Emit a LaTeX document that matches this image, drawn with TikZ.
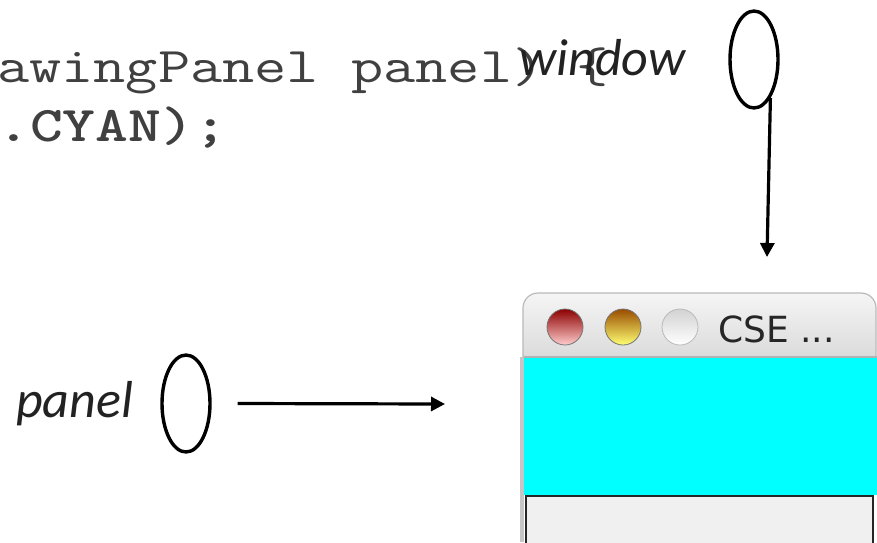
\documentclass[tikz,border=0pt]{standalone}
\usepackage{fontspec}
\usetikzlibrary{shapes.geometric,arrows.meta}
\newfontfamily\codefont[FakeStretch=1.25]{Latin Modern Mono}
\newfontfamily\codeboldfont[FakeStretch=1.25]{lmmonolt10-bold.otf}
\newfontfamily\labelfont{Carlito}
\newfontfamily\titlefont{DejaVu Sans}
\definecolor{codegray}{HTML}{404040}
\definecolor{labelgray}{HTML}{222222}
\definecolor{wincyan}{RGB}{0,255,255}
\tikzset{
    code/.style={font=\codefont\fontsize{50}{60}\selectfont, text=codegray, inner sep=0pt, anchor=base west},
    varlabel/.style={font=\labelfont\itshape\fontsize{52}{60}\selectfont, text=labelgray, inner sep=0pt, anchor=base west},
    varbox/.style={draw, ellipse, line width=3.4pt, minimum width=48pt, minimum height=97pt, inner sep=0pt},
    ptr/.style={line width=3.2pt, -{Triangle[length=14pt,width=14pt]}},
}
\begin{document}
\begin{tikzpicture}[x=1pt, y=-1pt]
    \useasboundingbox (0,0) rectangle (877,542);

    % codice
    \node[code] (codeA) at (-3,82) {awingPanel panel) \{};
    \node[code, font=\codeboldfont\fontsize{50}{60}\selectfont] (codeB) at (-3,141) {.CYAN);};

    % variabili
    \node[varlabel] (winname) at (519,75) {window};
    \node[varbox] (winvar) at (754,59.5) {};
    \node[varlabel] (panelname) at (16,417) {panel};
    \node[varbox] (panelvar) at (186,403.5) {};

    % finestra
    \begin{scope}
        \shade[top color=gray!8, bottom color=gray!28] (523,357) [rounded corners=15pt] -- (523,293) -- (876,293) [sharp corners] -- (876,357) -- cycle;
        \draw[gray!55, line width=1.2pt] (523,357) [rounded corners=15pt] -- (523,293) -- (876,293) [sharp corners] -- (876,357);
        \fill[wincyan] (524,357) rectangle (877,495);
        \draw[gray!60, line width=1.5pt] (523,357) -- (877,357);
        \fill[gray!45] (520,357) rectangle (524,542);
        \filldraw[fill=gray!12, draw=black!85, line width=2pt] (526,496) rectangle (873,546);
        \shade[top color=red!55!black, middle color=red!70!white, bottom color=red!20!white] (565,327) circle (18);
        \draw[black!55, line width=0.8pt] (565,327) circle (18);
        \shade[top color=orange!60!black, middle color=orange!85!yellow, bottom color=yellow!55!white] (623,327) circle (18);
        \draw[black!55, line width=0.8pt] (623,327) circle (18);
        \shade[top color=gray!35, bottom color=white] (680,327) circle (18);
        \draw[gray!55, line width=0.8pt] (680,327) circle (18);
        \node[font=\titlefont\fontsize{36}{40}\selectfont, text=black!85, inner sep=0pt, anchor=base west] (wintitle) at (718,342) {CSE ...};
    \end{scope}

    % frecce
    \coordinate (wintip) at (767,257);
    \coordinate (paneltip) at (445,404);
    \draw[ptr] (winvar.-67) -- (wintip);
    \draw[ptr] ([xshift=26pt]panelvar.east) -- (paneltip);
\end{tikzpicture}
\end{document}
